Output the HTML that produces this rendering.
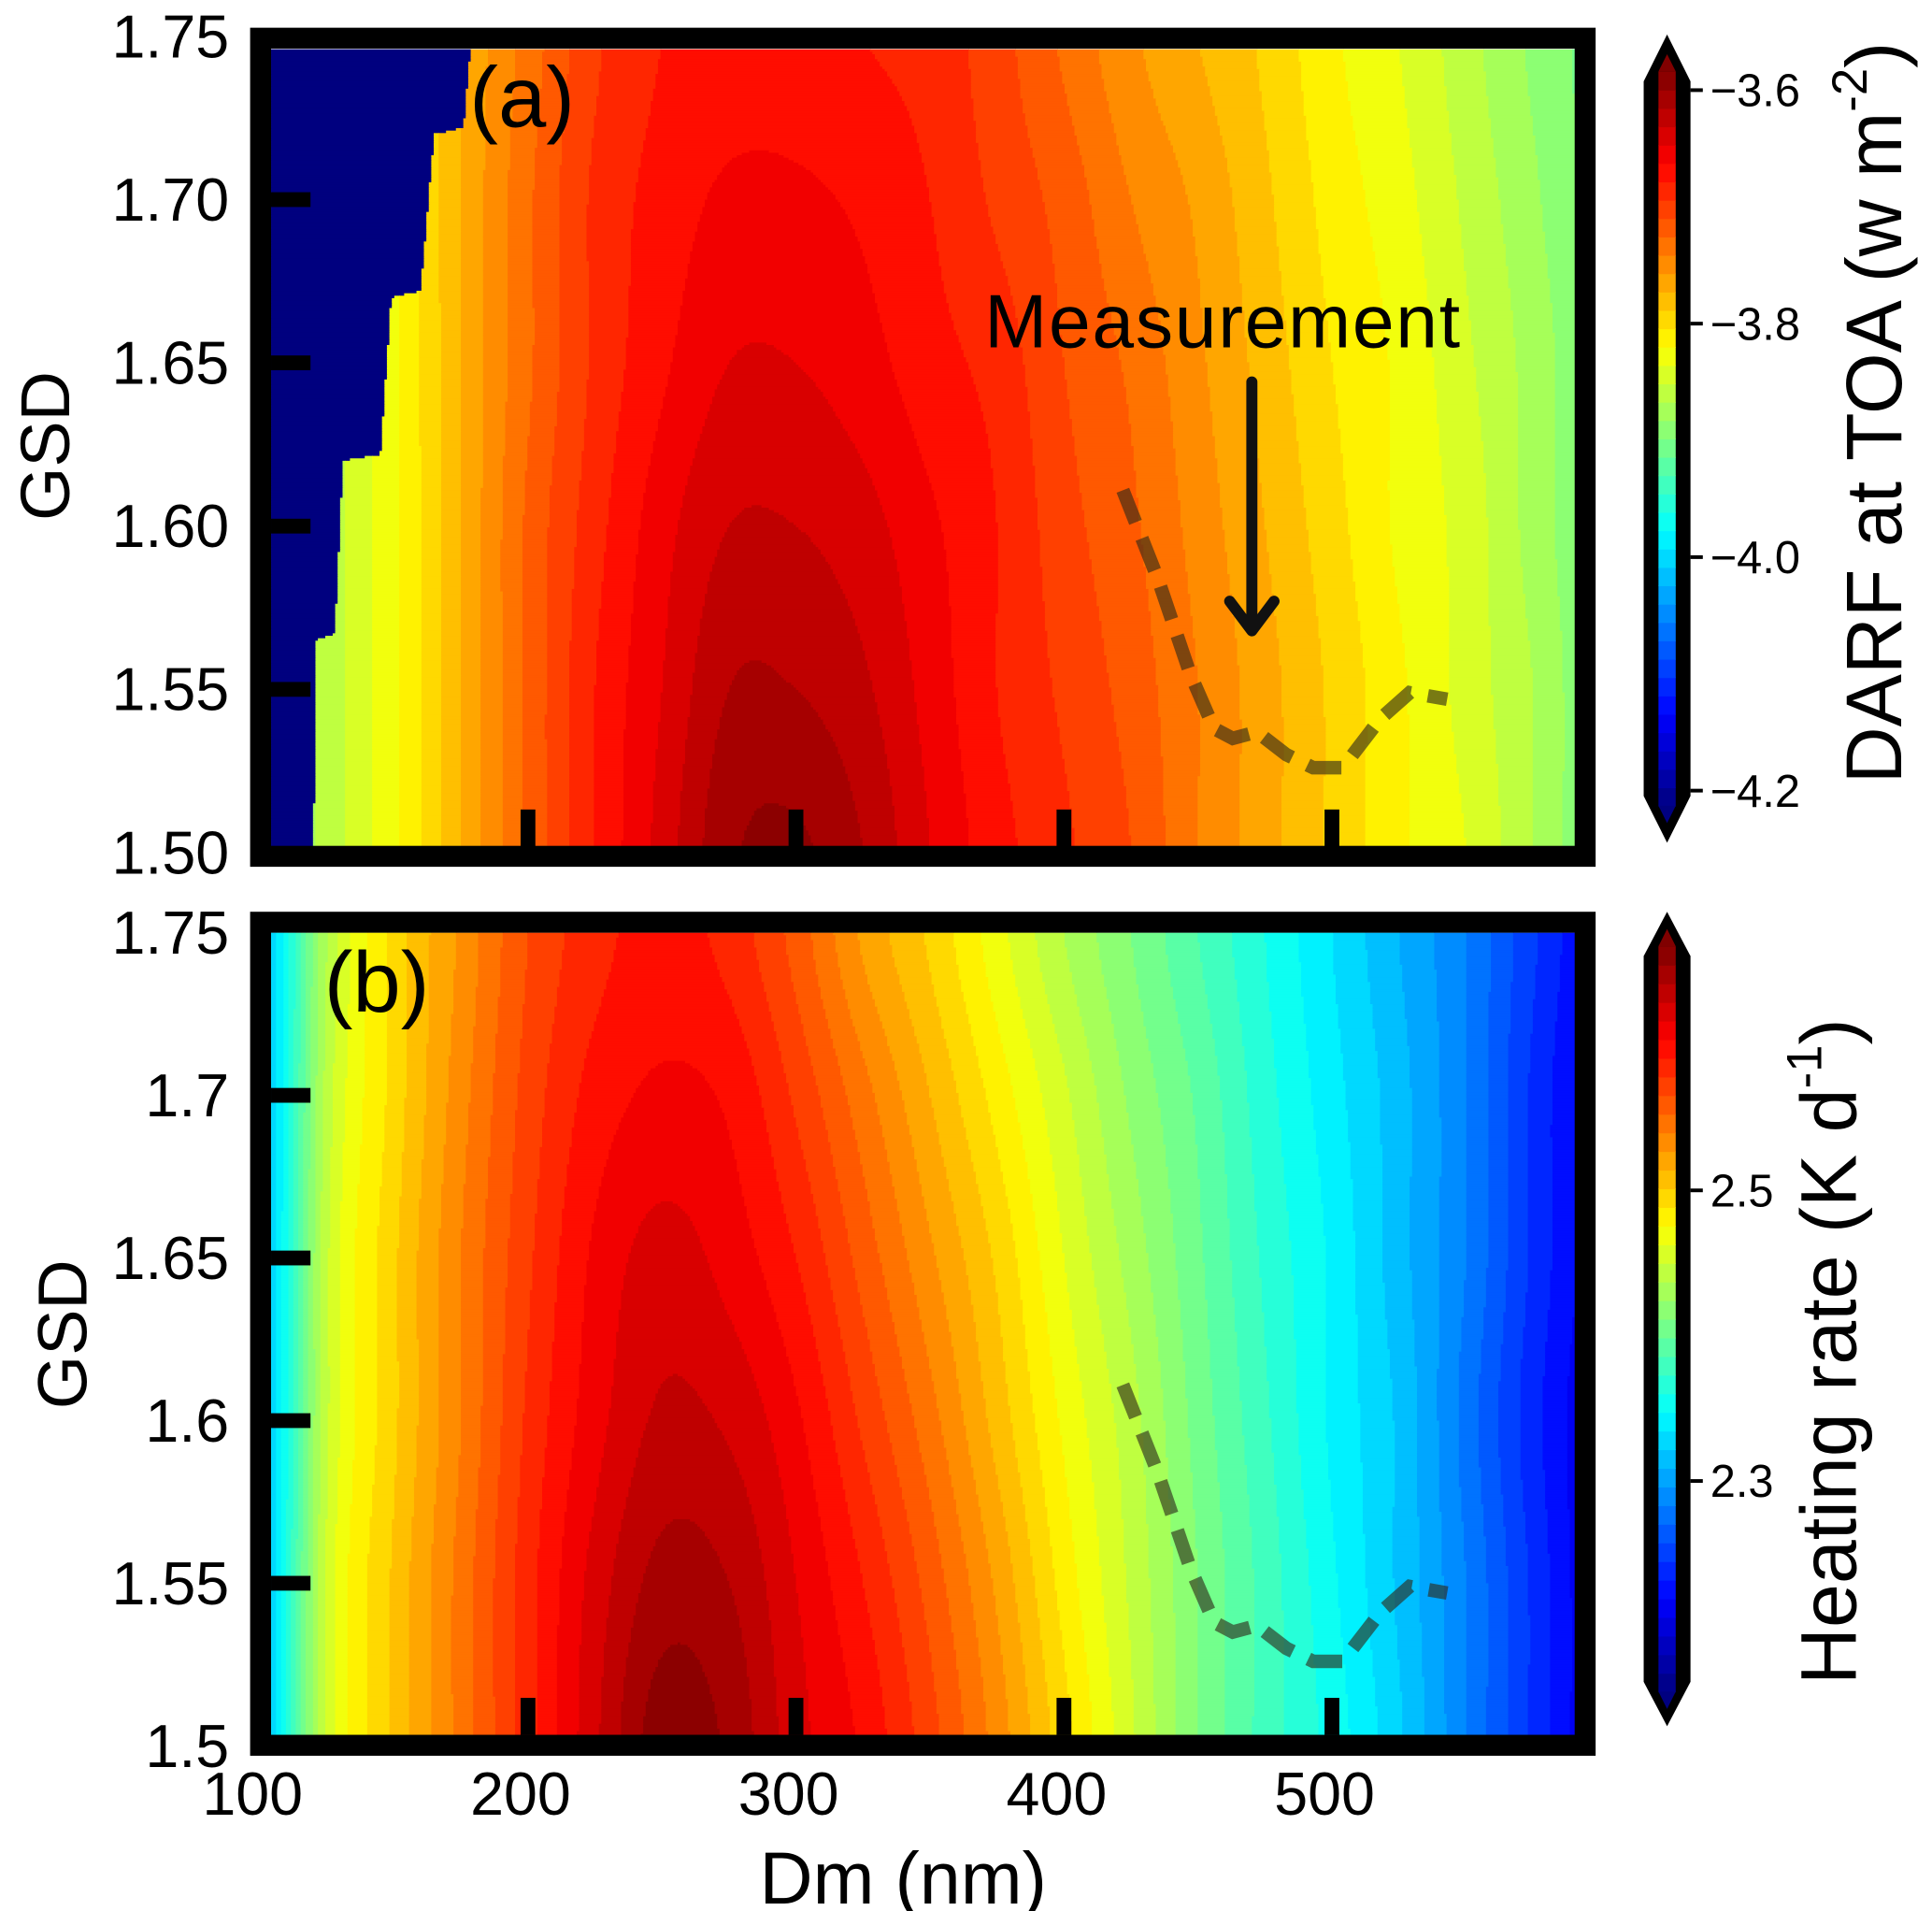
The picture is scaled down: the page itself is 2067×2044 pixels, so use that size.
<!DOCTYPE html>
<html><head><meta charset="utf-8"><style>
html,body{margin:0;padding:0;background:#fff;}
svg{display:block;font-family:"Liberation Sans",Arial,sans-serif;}
</style></head><body>
<svg id="fig" width="2067" height="2044" viewBox="0 0 1568 1551" preserveAspectRatio="none" xmlns="http://www.w3.org/2000/svg">
<g id="heatA"></g>
<g id="heatB"></g>
<g id="overlay"></g>
</svg>
<script>
// ---- data ----
const dmCols = [100,125,150,175,200,225,250,275,300,325,350,375,400,425,450,475,500,525,550,575,600];
const gsdRows = [1.50,1.55,1.60,1.65,1.70,1.75];
// normalized colour level (0 = bottom of colourbar, 1 = top) for panel (a) DARF
const darfRow150 = [.50,.56,.62,.70,.78,.85,.91,.97,.98,.95,.90,.86,.83,.80,.75,.71,.67,.63,.60,.55,.50];
const darfRow155 = [.50,.56,.62,.70,.78,.85,.90,.95,.95,.93,.89,.85,.82,.79,.75,.71,.67,.63,.59,.55,.50];
const darfRow160 = [.50,.56,.62,.70,.78,.84,.89,.925,.925,.91,.88,.85,.81,.78,.74,.70,.66,.62,.59,.54,.50];
const darfRow165 = [.50,.56,.62,.70,.77,.83,.87,.90,.90,.885,.86,.84,.80,.77,.73,.69,.65,.62,.58,.54,.50];
const darfRow170 = [.50,.55,.62,.70,.77,.83,.86,.88,.88,.87,.85,.82,.79,.75,.72,.68,.64,.61,.57,.53,.49];
const darfRow175 = [.50,.55,.62,.70,.76,.82,.85,.86,.86,.85,.84,.81,.77,.73,.70,.67,.63,.60,.56,.52,.49];
// masked (no-solution) boundary of panel (a)
const maskGsd = [1.50,1.565,1.567,1.62,1.622,1.67,1.672,1.72,1.722,1.76];
const maskDm  = [120,121,128,131,145,149,160,165,176,180];
// panel (b) heating rate
const heatRow150 = [.30,.58,.68,.76,.84,.92,.99,.97,.91,.87,.81,.74,.66,.58,.50,.44,.39,.33,.25,.17,.10];
const heatRow155 = [.30,.58,.68,.76,.84,.91,.96,.95,.90,.85,.79,.72,.64,.57,.50,.44,.38,.32,.25,.17,.10];
const heatRow160 = [.30,.57,.67,.75,.83,.89,.93,.92,.88,.82,.76,.69,.62,.56,.49,.43,.37,.32,.24,.16,.10];
const heatRow165 = [.30,.57,.67,.75,.82,.88,.91,.89,.85,.79,.73,.67,.60,.54,.48,.42,.37,.31,.25,.17,.11];
const heatRow170 = [.30,.56,.66,.74,.81,.86,.88,.87,.82,.76,.70,.64,.58,.52,.47,.41,.36,.31,.25,.17,.11];
const heatRow175 = [.30,.55,.66,.73,.80,.84,.86,.84,.79,.72,.67,.61,.55,.50,.45,.40,.35,.30,.25,.18,.12];
// measurement curve
const measDm  = [422,435,447,456,463,472,483,493,504,518,529,543];
const measGsd = [1.611,1.584,1.555,1.538,1.535,1.537,1.530,1.526,1.526,1.541,1.549,1.547];
// ticks
const xTicks = [100,200,300,400,500];
const xTickLabels = ["100","200","300","400","500"];
const yTicksA = [1.50,1.55,1.60,1.65,1.70,1.75];
const yTickLabelsA = ["1.50","1.55","1.60","1.65","1.70","1.75"];
const yTicksB = [1.5,1.55,1.6,1.65,1.7,1.75];
const yTickLabelsB = ["1.5","1.55","1.6","1.65","1.7","1.75"];
const cbTicksA = [-3.6,-3.8,-4.0,-4.2];
const cbLabelsA = ["\u22123.6","\u22123.8","\u22124.0","\u22124.2"];
const cbRangeA = [-4.213,-3.584];
const cbTicksB = [2.5,2.3];
const cbLabelsB = ["2.5","2.3"];
const cbRangeB = [2.155,2.668];

const NS="http://www.w3.org/2000/svg";
const NLEV=40;
function jet(t){t=Math.max(0,Math.min(1,t));const c=v=>Math.round(255*Math.max(0,Math.min(1,v)));
 return `rgb(${c(1.5-Math.abs(4*t-3))},${c(1.5-Math.abs(4*t-2))},${c(1.5-Math.abs(4*t-1))})`;}
function lev(t){const k=Math.max(0,Math.min(NLEV-1,Math.floor(t*NLEV)));return (k+0.5)/NLEV;}
function xS(dm){return 211+(dm-100)*2.175;}
function xInv(x){return (x-211)/2.175+100;}
function yA(g){return 692-(g-1.5)*2650;}
function yAInv(y){return 1.5+(692-y)/2650;}
function yB(g){return 1417-(g-1.5)*2640;}
function yBInv(y){return 1.5+(1417-y)/2640;}
function mk(parent,tag,attrs){const e=document.createElementNS(NS,tag);for(const k in attrs)e.setAttribute(k,attrs[k]);parent.appendChild(e);return e;}
function interp1(xs,ys,x){if(x<=xs[0])return ys[0];for(let i=1;i<xs.length;i++){if(x<=xs[i]){const f=(x-xs[i-1])/(xs[i]-xs[i-1]);return ys[i-1]+f*(ys[i]-ys[i-1]);}}return ys[ys.length-1];}
// smooth (Catmull-Rom) interpolation along both axes
function cr(p0,p1,p2,p3,t){return 0.5*((2*p1)+(-p0+p2)*t+(2*p0-5*p1+4*p2-p3)*t*t+(-p0+3*p1-3*p2+p3)*t*t*t);}
function rowAt(row,ci){const n=row.length;const c0=Math.floor(ci),f=ci-c0;const g=i=>row[Math.max(0,Math.min(n-1,i))];return cr(g(c0-1),g(c0),g(c0+1),g(c0+2),f);}
function field(rows,dm,g){
 let ci=(dm-dmCols[0])/25; ci=Math.max(0,Math.min(dmCols.length-1.0001,ci));
 let ri=(g-gsdRows[0])/0.05; ri=Math.max(0,Math.min(gsdRows.length-1.0001,ri));
 const r0=Math.floor(ri),fr=ri-r0;const n=rows.length;
 const v=i=>rowAt(rows[Math.max(0,Math.min(n-1,i))],ci);
 return cr(v(r0-1),v(r0),v(r0+1),v(r0+2),fr);}
function drawHeat(gEl,rows,top,bot,yInv,mask){
 const L=220,R=1278,S=2;
 for(let y=top;y<bot;y+=S){
  const g=yInv(y+S/2); let runStart=L, runCol=null;
  const bnd = mask? interp1(maskGsd,maskDm,g): -1;
  for(let x=L;x<=R;x+=S){
   let col;
   if(x<R){const dm=xInv(x+S/2); col = (mask && dm<bnd)? "#00007f" : jet(lev(field(rows,dm,g)));}
   if(x>=R || col!==runCol){
    if(runCol!==null){const r=mk(gEl,'rect',{x:runStart,y:y,width:x-runStart+0.6,height:S+0.6,fill:runCol});
     
     }
    runStart=x; runCol=col;}
  }
 }
}
const rowsA=[darfRow150,darfRow155,darfRow160,darfRow165,darfRow170,darfRow175];
const rowsB=[heatRow150,heatRow155,heatRow160,heatRow165,heatRow170,heatRow175];
drawHeat(document.getElementById('heatA'),rowsA,40,687,yAInv,true);
drawHeat(document.getElementById('heatB'),rowsB,757,1408,yBInv,false);

const ov=document.getElementById('overlay');
function curve(yf,name){let d='';measDm.forEach((dm,i)=>{d+=(i?'L':'M')+xS(dm).toFixed(1)+' '+yf(measGsd[i]).toFixed(1);});
 const p=mk(ov,'path',{d:d,fill:'none',stroke:'rgba(45,40,25,0.62)','stroke-width':11,'stroke-dasharray':'28 14'});
 
 }
curve(yA,'measurement-curve-a'); curve(yB,'measurement-curve-b');
function frame(y0,y1,name){const r=mk(ov,'rect',{x:211.5,y:y0,width:1075,height:y1-y0,fill:'none',stroke:'#000','stroke-width':17});
 
 }
frame(31,695,'frame-a'); frame(748.5,1416.5,'frame-b');
function yticks(vals,labels,yf,name){vals.forEach((v,i)=>{const y=yf(v);
 if(i>0&&i<vals.length-1){const t=mk(ov,'rect',{x:220,y:y-6,width:32,height:12,fill:'#000'});
  
  }
 const tx=mk(ov,'text',{x:186,y:y+17,'text-anchor':'end','font-size':49,fill:'#000'});tx.textContent=labels[i];
 
 });}
yticks(yTicksA,yTickLabelsA,yA,'y-axis-a'); yticks(yTicksB,yTickLabelsB,yB,'y-axis-b');
xTicks.forEach((v,i)=>{if(i>0){[687,1408].forEach(yb=>{const t=mk(ov,'rect',{x:xS(v)-6,y:yb-30,width:12,height:30,fill:'#000'});
  
  });}
 const tx=mk(ov,'text',{x:xS(v)-6,y:1473,'text-anchor':'middle','font-size':49,fill:'#000'});tx.textContent=xTickLabels[i];
 
 });
function colorbar(range,ticks,labels,tipTop,cTop,cBot,tipBot,name){
 const xL=1334,xR=1372,xm=(xL+xR)/2;
 const o=mk(ov,'path',{d:`M${xm} ${tipTop} L${xR} ${cTop+8} L${xR} ${cBot-8} L${xm} ${tipBot} L${xL} ${cBot-8} L${xL} ${cTop+8} Z`,fill:'#000'});
 
 
 const h=(cBot-cTop)/NLEV;
 for(let k=0;k<NLEV;k++){const r=mk(ov,'rect',{x:1346,y:cBot-(k+1)*h,width:14,height:h+0.6,fill:jet((k+0.5)/NLEV)});
  
  }
 mk(ov,'path',{d:`M1346 ${cTop} L${xm} ${cTop-14} L1360 ${cTop} Z`,fill:jet(1)});
 mk(ov,'path',{d:`M1346 ${cBot} L${xm} ${cBot+14} L1360 ${cBot} Z`,fill:jet(0)});
 ticks.forEach((v,i)=>{const y=cBot-(v-range[0])/(range[1]-range[0])*(cBot-cTop);
  mk(ov,'rect',{x:xR,y:y-1.5,width:10,height:3,fill:'#000'});
  const tx=mk(ov,'text',{x:1388,y:y+13,'font-size':37,fill:'#000'});tx.textContent=labels[i];
  
  });}
colorbar(cbRangeA,cbTicksA,cbLabelsA,28,58,654,684,'colorbar-a');
colorbar(cbRangeB,cbTicksB,cbLabelsB,740,768,1373,1401,'colorbar-b');
</script>
<script>
const o2=document.getElementById('overlay');
const NS2="http://www.w3.org/2000/svg";
function t2(x,y,s,txt,name,extra){const e=document.createElementNS(NS2,'text');e.setAttribute('x',x);e.setAttribute('y',y);e.setAttribute('font-size',s);e.setAttribute('fill','#000');if(extra)for(const k in extra)e.setAttribute(k,extra[k]);e.innerHTML=txt;o2.appendChild(e);
 
 return e;}
t2(381,103,70,'(a)','panel-label-a');
t2(263,821,70,'(b)','panel-label-b');
t2(799,282,61,'Measurement','measurement-annotation',{textLength:386});
const ar=document.createElementNS(NS2,'path');ar.setAttribute('d','M1016 310 L1016 505 M998 488 L1016 512 L1034 488');ar.setAttribute('stroke','#111');ar.setAttribute('stroke-width',9);ar.setAttribute('fill','none');ar.setAttribute('stroke-linecap','round');ar.setAttribute('stroke-linejoin','round');o2.appendChild(ar);


t2(56,362,56,'GSD','y-axis-title-a',{transform:'rotate(-90 56 362)','text-anchor':'middle'});
t2(70,1083,56,'GSD','y-axis-title-b',{transform:'rotate(-90 70 1083)','text-anchor':'middle'});
t2(733,1545,60,'Dm (nm)','x-axis-title',{'text-anchor':'middle'});
t2(1543,335,64,'DARF at TOA (w m<tspan font-size="40" dy="-28">-2</tspan><tspan dy="28">)</tspan>','colorbar-title-a',{transform:'rotate(-90 1543 335)','text-anchor':'middle'});
t2(1506,1097,64,'Heating rate (K d<tspan font-size="40" dy="-28">-1</tspan><tspan dy="28">)</tspan>','colorbar-title-b',{transform:'rotate(-90 1506 1097)','text-anchor':'middle'});
</script>
</body></html>
